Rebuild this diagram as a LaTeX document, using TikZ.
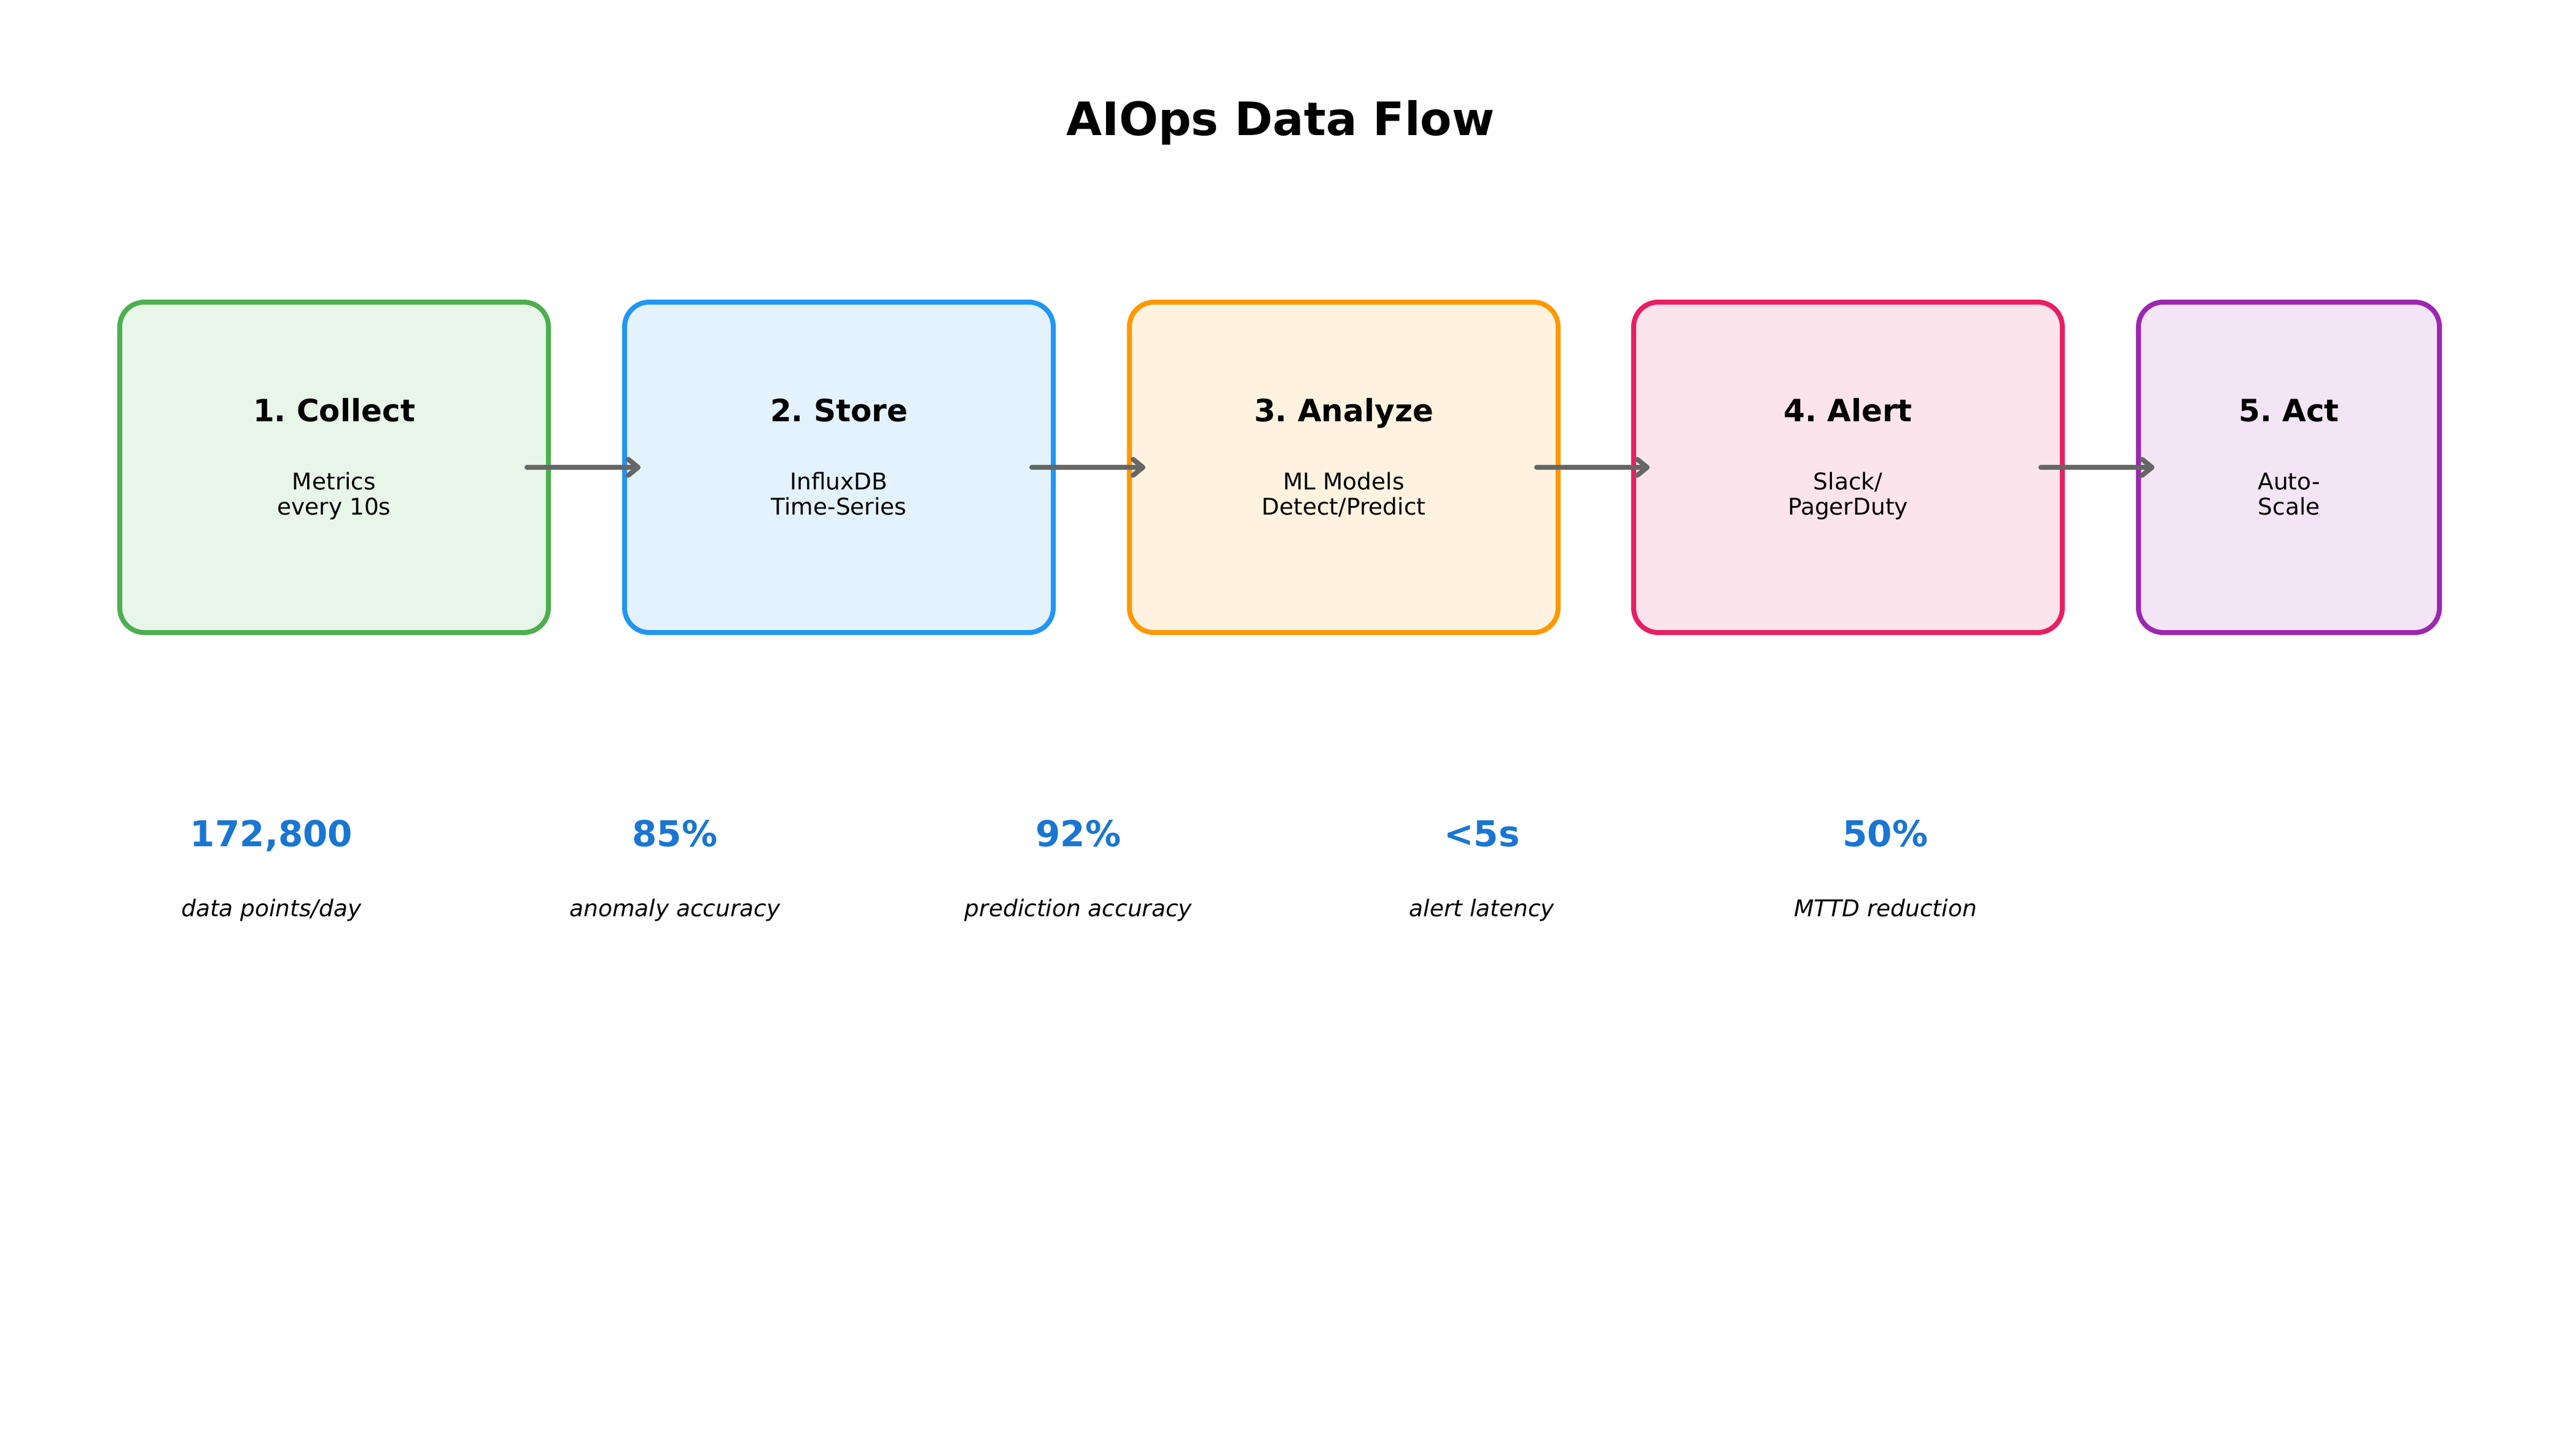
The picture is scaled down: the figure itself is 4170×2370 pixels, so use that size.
\documentclass[tikz,border=0pt]{standalone}
\usepackage{fontspec}
\setmainfont{DejaVu Sans}
\usetikzlibrary{arrows.meta}
\frenchspacing
\definecolor{gC}{HTML}{4CAF50}\definecolor{gF}{HTML}{E8F5E9}
\definecolor{bC}{HTML}{2196F3}\definecolor{bF}{HTML}{E3F2FD}
\definecolor{oC}{HTML}{FF9800}\definecolor{oF}{HTML}{FFF3E0}
\definecolor{pC}{HTML}{E91E63}\definecolor{pF}{HTML}{FCE4EC}
\definecolor{vC}{HTML}{9C27B0}\definecolor{vF}{HTML}{F3E5F5}
\definecolor{statblue}{HTML}{1976D2}
\definecolor{arrgray}{HTML}{666666}
\tikzset{
  stagebox/.style={draw=#1, line width=8pt, rounded corners=40pt, minimum height=538pt, inner sep=0pt},
  stagetitle/.style={anchor=base, inner sep=0pt, font=\fontsize{50}{60}\selectfont\bfseries},
  stagesub/.style={anchor=base, inner sep=0pt, align=center, font=\fontsize{37.5}{41}\selectfont},
  statnum/.style={anchor=base, inner sep=0pt, text=statblue, font=\fontsize{58}{70}\selectfont\bfseries},
  statlabel/.style={anchor=base, inner sep=0pt, font=\fontsize{37.5}{45}\selectfont\itshape},
  flow/.style={draw=arrgray, line width=8pt, line cap=round, -{Straight Barb[length=16pt, width=26pt, round]}},
  heading/.style={anchor=base, inner sep=0pt, font=\fontsize{75}{90}\selectfont\bfseries}
}
\begin{document}
\begin{tikzpicture}[x=1pt, y=-1pt]
\useasboundingbox[fill=white] (0,0) rectangle (4170,2370);
\node[heading] (title) at (2085,220) {AIOps Data Flow};
% boxes
\node[stagebox=gC, fill=gF, minimum width=698pt] (b1) at (544,761) {};
\node[stagebox=bC, fill=bF, minimum width=698pt] (b2) at (1366,761) {};
\node[stagebox=oC, fill=oF, minimum width=698pt] (b3) at (2188,761) {};
\node[stagebox=pC, fill=pF, minimum width=698pt] (b4) at (3009,761) {};
\node[stagebox=vC, fill=vF, minimum width=490pt] (b5) at (3727,761) {};
% titles
\node[stagetitle] (t1) at (544,686) {1. Collect};
\node[stagetitle] (t2) at (1366,686) {2. Store};
\node[stagetitle] (t3) at (2188,686) {3. Analyze};
\node[stagetitle] (t4) at (3009,686) {4. Alert};
\node[stagetitle] (t5) at (3727,686) {5. Act};
% subtitles (base anchor = baseline of the last line)
\node[stagesub] (s1) at (544,838) {Metrics\\every 10s};
\node[stagesub] (s2) at (1366,838) {InfluxDB\\Time-Series};
\node[stagesub] (s3) at (2188,838) {ML Models\\Detect/Predict};
\node[stagesub] (s4) at (3009,838) {Slack/\\PagerDuty};
\node[stagesub] (s5) at (3727,838) {Auto-\\Scale};
% arrows
\draw[flow] ([xshift=-39pt]b1.east) -- ([xshift=30pt]b2.west);
\draw[flow] ([xshift=-39pt]b2.east) -- ([xshift=30pt]b3.west);
\draw[flow] ([xshift=-39pt]b3.east) -- ([xshift=30pt]b4.west);
\draw[flow] ([xshift=-39pt]b4.east) -- ([xshift=30pt]b5.west);
% stats
\node[statnum] (n1) at (442,1378) {172,800};
\node[statnum] (n2) at (1099,1378) {85\%};
\node[statnum] (n3) at (1756,1378) {92\%};
\node[statnum] (n4) at (2413,1378) {<5s};
\node[statnum] (n5) at (3070,1378) {50\%};
\node[statlabel] (l1) at (442,1492) {data points/day};
\node[statlabel] (l2) at (1099,1492) {anomaly accuracy};
\node[statlabel] (l3) at (1756,1492) {prediction accuracy};
\node[statlabel] (l4) at (2413,1492) {alert latency};
\node[statlabel] (l5) at (3070,1492) {MTTD reduction};
\end{tikzpicture}
\end{document}
